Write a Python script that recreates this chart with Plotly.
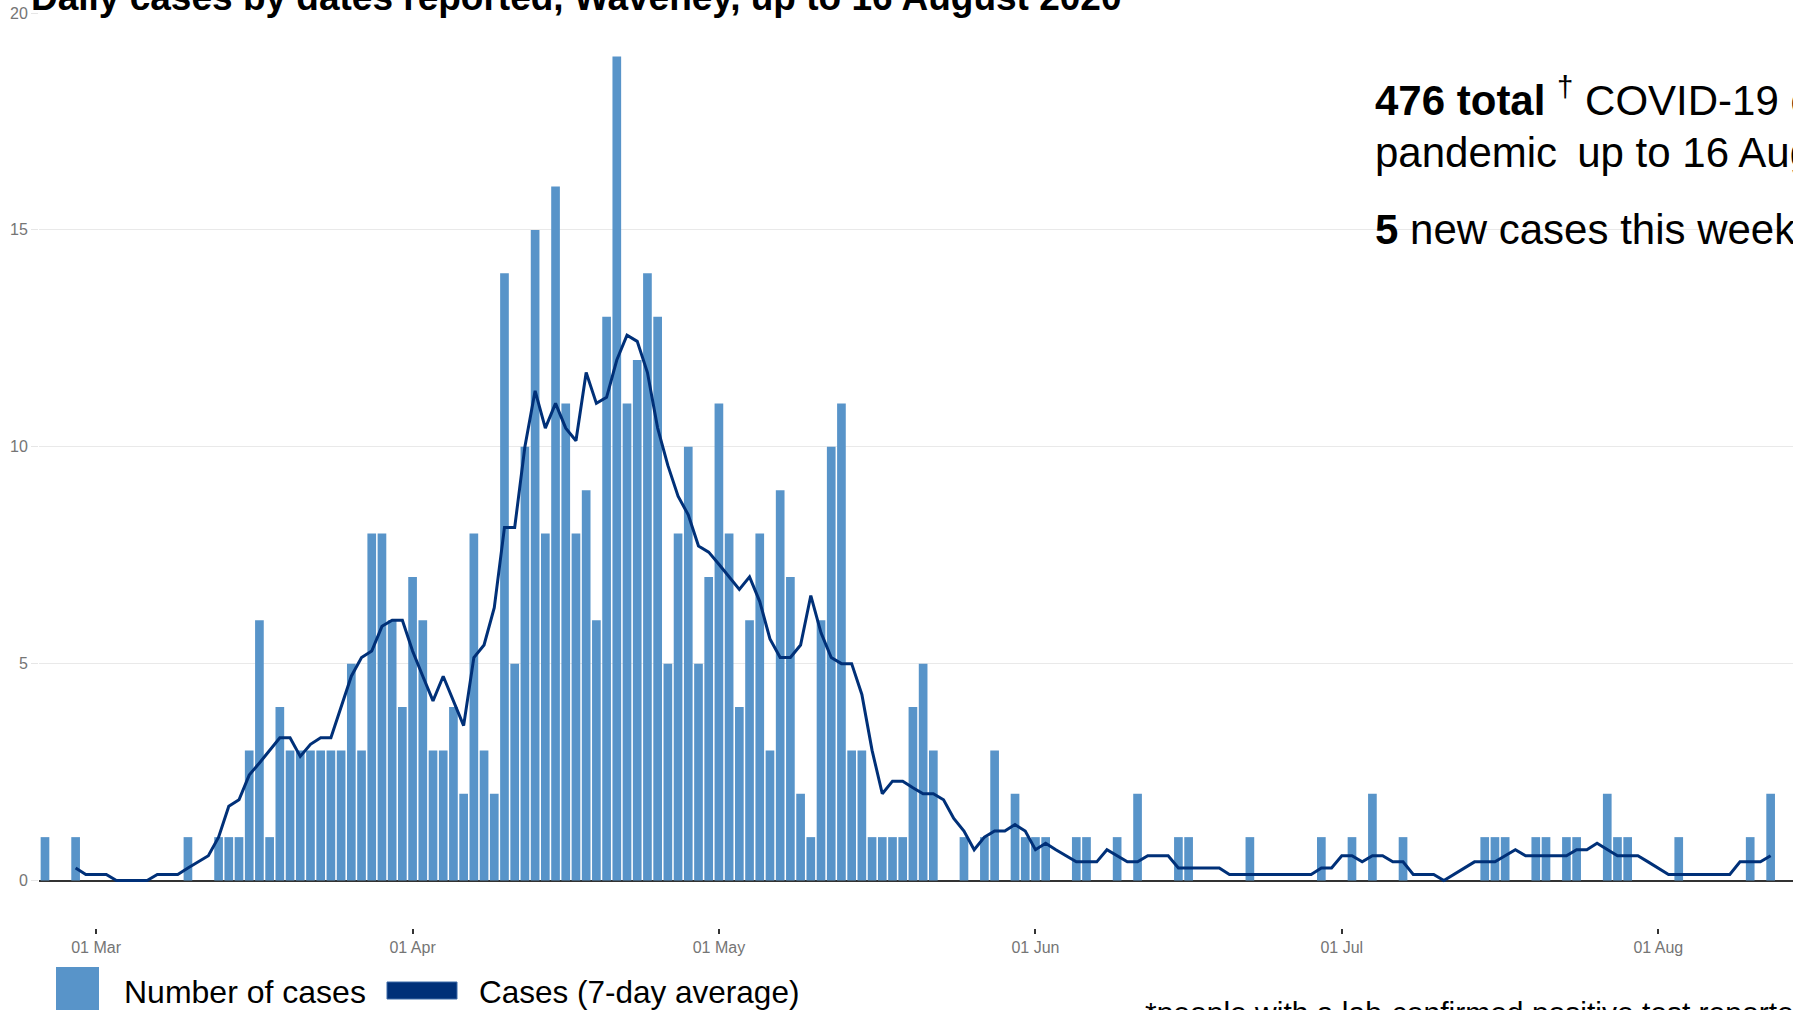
import pandas as pd
import plotly.graph_objects as go

# ---------------- data ----------------
start_day = "2020-02-25"          # first bar
feb_cases = [1, 0, 0, 1, 0]       # 25-29 Feb
mar_cases = [0, 0, 0, 0, 0, 0, 0, 0, 0, 1, 0, 0, 1, 1, 1, 3, 6, 1, 4, 3, 3, 3, 3, 3, 3, 5, 3, 8, 8, 6, 4]
apr_cases = [7, 6, 3, 3, 4, 2, 8, 3, 2, 14, 5, 10, 15, 8, 16, 11, 8, 9, 6, 13, 19, 11, 12, 14, 13, 5, 8, 10, 5, 7]
may_cases = [11, 8, 4, 6, 8, 3, 9, 7, 2, 1, 6, 10, 11, 3, 3, 1, 1, 1, 1, 4, 5, 3, 0, 0, 1, 0, 1, 3, 0, 2, 1]
jun_cases = [1, 1, 0, 0, 1, 1, 0, 0, 1, 0, 2, 0, 0, 0, 1, 1, 0, 0, 0, 0, 0, 1, 0, 0, 0, 0, 0, 0, 1, 0]
jul_cases = [0, 1, 0, 2, 0, 0, 1, 0, 0, 0, 0, 0, 0, 0, 1, 1, 1, 0, 0, 1, 1, 0, 1, 1, 0, 0, 2, 1, 1, 0, 0]
aug_cases = [0, 0, 1, 0, 0, 0, 0, 0, 0, 1, 0, 2, 0, 0, 1]

avg_start_day = "2020-02-28"      # first point of the 7-day average line
avg_7day = [
    0.29, 0.14, 0.14, 0.14, 0, 0, 0, 0,
    0.14, 0.14, 0.14, 0.29, 0.43, 0.57, 1.0, 1.71, 1.86, 2.43,
    2.71, 3.0, 3.29, 3.29, 2.86, 3.14, 3.29, 3.29, 4.0, 4.71,
    5.14, 5.29, 5.86, 6.0, 6.0, 5.29, 4.71, 4.14, 4.71, 4.14,
    3.57, 5.14, 5.43, 6.29, 8.14, 8.14, 10.0, 11.29, 10.43, 11.0,
    10.43, 10.14, 11.71, 11.0, 11.14, 12.0, 12.57, 12.43, 11.71, 10.43,
    9.57, 8.86, 8.43, 7.71, 7.57, 7.29, 7.0, 6.71, 7.0, 6.43,
    5.57, 5.14, 5.14, 5.43, 6.57, 5.71, 5.14, 5.0, 5.0, 4.29,
    3.0, 2.0, 2.29, 2.29, 2.14, 2.0, 2.0, 1.86, 1.43, 1.14,
    0.71, 1.0, 1.14, 1.14, 1.29, 1.14, 0.71, 0.86, 0.71, 0.57,
    0.43, 0.43, 0.43, 0.71, 0.57, 0.43, 0.43, 0.57, 0.57, 0.57,
    0.29, 0.29, 0.29, 0.29, 0.29, 0.14, 0.14, 0.14, 0.14, 0.14,
    0.14, 0.14, 0.14, 0.14, 0.29, 0.29, 0.57, 0.57, 0.43, 0.57,
    0.57, 0.43, 0.43, 0.14, 0.14, 0.14, 0, 0.14, 0.29, 0.43,
    0.43, 0.43, 0.57, 0.71, 0.57, 0.57, 0.57, 0.57, 0.57, 0.71,
    0.71, 0.86, 0.71, 0.57, 0.57, 0.57, 0.43, 0.29, 0.14, 0.14,
    0.14, 0.14, 0.14, 0.14, 0.14, 0.43, 0.43, 0.43, 0.57,
]

tick_dates = ["2020-03-01", "2020-04-01", "2020-05-01", "2020-06-01", "2020-07-01", "2020-08-01"]
tick_labels = ["01 Mar", "01 Apr", "01 May", "01 Jun", "01 Jul", "01 Aug"]
y_ticks = [0, 5, 10, 15, 20]

title_text = "Daily cases by dates reported, Waveney, up to 16 August 2020"
legend_bar = "Number of cases"
legend_line = "Cases (7-day average)"
info_line1 = "<b>476 total</b> <sup>†</sup> COVID-19 cases* since the start of the"
info_line2 = "pandemic \u2009up to 16 August 2020"
info_line3 = "<b>5</b> new cases this week"
footnote = "*people with a lab-confirmed positive test reported"

# ---------------- build ----------------
daily_cases = feb_cases + mar_cases + apr_cases + may_cases + jun_cases + jul_cases + aug_cases
bar_dates = pd.date_range(start_day, periods=len(daily_cases), freq="D")
avg_dates = pd.date_range(avg_start_day, periods=len(avg_7day), freq="D")

BAR = "#5894c9"
NAVY = "#003078"
GREY = "#757575"
FONT = "Liberation Sans, Arial, sans-serif"

W, H = 1793, 1010
ML, MR, MT, MB = 39, 0, 13, 82
PW, PH = W - ML - MR, H - MT - MB


def px(xp):
    return (xp - ML) / PW


def py(yp):
    return (H - MB - yp) / PH


fig = go.Figure()
fig.add_trace(go.Bar(x=bar_dates, y=daily_cases, marker=dict(color=BAR, line=dict(width=0)),
                     name=legend_bar, showlegend=False))
fig.add_trace(go.Scatter(x=avg_dates, y=avg_7day, mode="lines", line=dict(color=NAVY, width=3),
                         name=legend_line, showlegend=False))

fig.update_layout(
    width=W, height=H,
    margin=dict(l=ML, r=MR, t=MT, b=MB, pad=0),
    paper_bgcolor="white", plot_bgcolor="white",
    bargap=0.15,
    font=dict(family=FONT, color="black"),
    showlegend=False,
    xaxis=dict(
        type="date",
        range=["2020-02-24 09:55", "2020-08-14 04:34"],
        tickvals=tick_dates, ticktext=tick_labels,
        ticks="outside", ticklen=5, tickwidth=2, tickcolor="#333333",
        tickfont=dict(size=16, color=GREY, family=FONT),
        showgrid=False, showline=False, zeroline=False,
    ),
    yaxis=dict(
        range=[-1.095, 20.0],
        tickvals=y_ticks,
        ticks="outside", ticklen=7, tickwidth=1, tickcolor="#e6e6e6",
        tickfont=dict(size=16, color=GREY, family=FONT),
        showgrid=True, gridcolor="#e9e9e9", gridwidth=1,
        zeroline=True, zerolinecolor="#333333", zerolinewidth=1.5,
        showline=False,
    ),
)

ann = []
ann.append(dict(text="<b>" + title_text + "</b>", x=px(29), y=py(20), xref="paper", yref="paper",
                xanchor="left", yanchor="bottom", showarrow=False,
                font=dict(size=37, family=FONT, color="black")))
for txt, base in [(info_line1, 116), (info_line2, 168), (info_line3, 245)]:
    ann.append(dict(text=txt, x=px(1373), y=py(base + 10), xref="paper", yref="paper",
                    xanchor="left", yanchor="bottom", showarrow=False, align="left",
                    font=dict(size=42, family=FONT, color="black")))
ann.append(dict(text=legend_bar, x=px(122), y=py(1004 + 8), xref="paper", yref="paper",
                xanchor="left", yanchor="bottom", showarrow=False,
                font=dict(size=32, family=FONT, color="black")))
ann.append(dict(text=legend_line, x=px(477), y=py(1004 + 8), xref="paper", yref="paper",
                xanchor="left", yanchor="bottom", showarrow=False,
                font=dict(size=31.5, family=FONT, color="black")))
ann.append(dict(text=footnote, x=px(1143), y=py(994), xref="paper", yref="paper",
                xanchor="left", yanchor="top", showarrow=False,
                font=dict(size=30, family=FONT, color="black")))
fig.update_layout(annotations=ann)

fig.add_shape(type="rect", xref="paper", yref="paper", x0=px(56), x1=px(99), y0=py(1020), y1=py(967),
              fillcolor=BAR, line=dict(width=0), layer="above")
fig.add_shape(type="rect", xref="paper", yref="paper", x0=px(387), x1=px(457), y0=py(999), y1=py(982),
              fillcolor=NAVY, line=dict(width=1, color="#3d6aa8"), layer="above")

fig.write_html("out.html", config={"displayModeBar": False},
               post_script="document.body.style.margin='0';document.body.style.overflow='hidden';")
